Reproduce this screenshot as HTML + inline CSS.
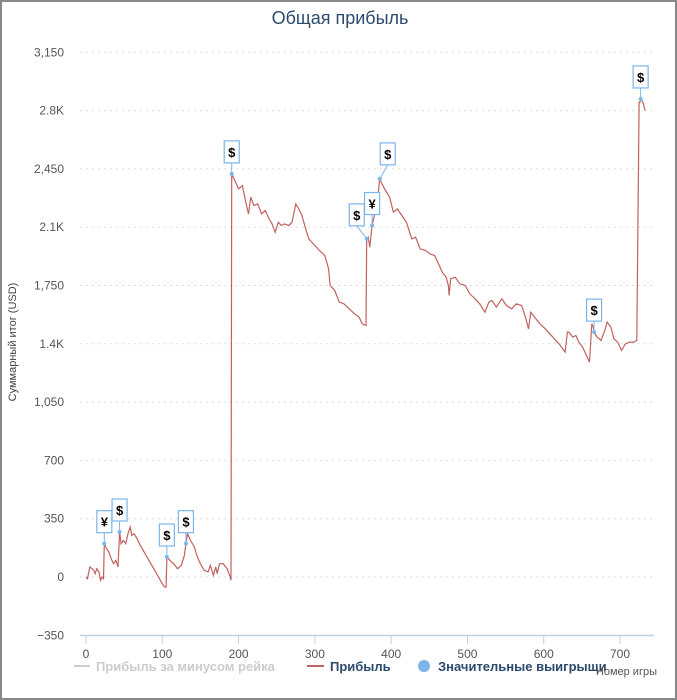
<!DOCTYPE html>
<html><head><meta charset="utf-8"><style>
body{margin:0;background:#fff;font-family:"Liberation Sans",sans-serif}
#wrap{position:relative;width:677px;height:700px;box-sizing:border-box;border:2px solid #888}
</style></head><body>
<div id="wrap">
<svg id="c" width="673" height="696" style="position:absolute;left:0;top:0"></svg>
</div>
<script>
const games=[0,2,5,8,10,12,14,17,19,21,23,24,27,30,33,36,39,42,44,46,49,52,55,58,60,63,67,70,75,80,85,90,95,100,103,105,106,110,115,120,125,129,131,133,137,142,146,150,155,160,163,167,170,172,175,180,185,189,190,191,195,200,205,209,213,216,220,225,230,235,240,244,248,252,256,260,266,270,275,279,283,288,292,300,306,313,318,320,326,332,338,345,352,358,362,367,368,370,372,375,378,382,385,389,394,398,403,408,414,420,427,432,438,445,451,457,462,467,472,475,476,478,484,490,497,503,510,516,523,528,532,538,545,551,558,564,571,576,580,583,588,595,602,608,614,620,628,631,633,638,642,646,651,656,660,663,665,666,670,675,680,683,688,692,697,702,707,713,718,722,725,726,727,730,733,737,741];
const profit=[0,-10,60,50,40,20,50,30,-20,0,-10,200,170,150,110,80,100,60,270,200,220,200,260,300,250,260,230,200,160,120,80,40,0,-40,-60,-60,120,100,80,50,70,130,200,260,220,180,120,80,40,30,70,10,60,20,80,80,50,0,-20,2420,2380,2330,2350,2260,2180,2280,2230,2240,2180,2200,2150,2120,2070,2130,2110,2120,2110,2130,2240,2210,2170,2090,2030,1990,1960,1930,1850,1750,1720,1650,1640,1610,1580,1560,1520,1510,2030,2040,1980,2110,2170,2250,2390,2350,2310,2280,2190,2210,2170,2130,2030,2040,1970,1960,1940,1930,1880,1830,1800,1750,1690,1790,1800,1760,1750,1700,1670,1640,1590,1650,1660,1620,1670,1630,1610,1640,1630,1560,1490,1590,1560,1520,1490,1460,1430,1400,1350,1470,1470,1440,1450,1410,1380,1330,1290,1520,1500,1470,1440,1420,1480,1530,1500,1430,1410,1360,1400,1410,1410,1420,2850,2850,2870,2850,2800];
const winGames=[24,44,106,131,191,368,375,385,666,727];
const winSymbols=["¥","$","$","$","$","$","¥","$","$","$"];
const yTicks=[3150,2800,2450,2100,1750,1400,1050,700,350,0,-350];
const yTickLabels=["3,150","2.8K","2,450","2.1K","1,750","1.4K","1,050","700","350","0","\u2212350"];
const xTicks=[0,100,200,300,400,500,600,700];

const NS="http://www.w3.org/2000/svg";
const svg=document.getElementById('c');
function X(g){return 84+g*0.7629;}
function Y(v){return 575-v*(58.3/350);}
function mk(t,a,p){const e=document.createElementNS(NS,t);for(const k in a)e.setAttribute(k,a[k]);(p||svg).appendChild(e);return e;}
function interp(g){for(let i=1;i<games.length;i++){if(games[i]>=g){const t=(g-games[i-1])/(games[i]-games[i-1]||1);return profit[i-1]+t*(profit[i]-profit[i-1]);}}return profit[profit.length-1];}

let t=mk('text',{x:338,y:22,'text-anchor':'middle','font-size':18,fill:'#2c4a6e'});t.textContent='Общая прибыль';



yTicks.forEach((v,i)=>{
 if(v!==-350){const l=mk('line',{x1:78,x2:652,y1:Y(v),y2:Y(v),stroke:'#ddd','stroke-dasharray':'2,4'});
 
 }
 const tx=mk('text',{x:62,y:Y(v)+4,'text-anchor':'end','font-size':12,fill:'#555'});tx.textContent=yTickLabels[i];
 
 
});
const ax=mk('line',{x1:78,x2:652,y1:633.5,y2:633.5,stroke:'#c0cfe6','stroke-width':1.5});


xTicks.forEach(g=>{
 const l=mk('line',{x1:X(g),x2:X(g),y1:633,y2:642,stroke:'#c0cfe6'});
 
 
 const tx=mk('text',{x:X(g),y:656,'text-anchor':'middle','font-size':12,fill:'#555'});tx.textContent=g;
 
 
});
const yt=mk('text',{x:0,y:0,transform:'translate(14,340) rotate(-90)','text-anchor':'middle','font-size':11,fill:'#444'});yt.textContent='Суммарный итог (USD)';



const pts=games.map((g,i)=>X(g).toFixed(1)+','+Y(profit[i]).toFixed(1)).join(' ');
const pl=mk('polyline',{points:pts,fill:'none',stroke:'#c0625f','stroke-width':1.2});



const offs={368:[-10,-13],375:[0,-11],385:[8,-14]};
winGames.forEach((g,i)=>{
 const px=X(g),py=Y(interp(g));
 const o=offs[g]||[0,-11];
 const bx=px+o[0],by=py+o[1];
 const grp=mk('g',{});
 
 
 mk('line',{x1:px,y1:py,x2:bx,y2:by,stroke:'#7cb5ec'},grp);
 mk('circle',{cx:px,cy:py,r:2,fill:'#7cb5ec'},grp);
 mk('rect',{x:bx-7.5,y:by-22,width:15,height:22,fill:'#fff',stroke:'#7cb5ec','stroke-width':1.2},grp);
 const s=mk('text',{x:bx,y:by-6,'text-anchor':'middle','font-size':13,'font-weight':'bold',fill:'#000'},grp);s.textContent=winSymbols[i];
});

const lg=mk('g',{});


const e1=mk('g',{},lg);


mk('line',{x1:72,x2:88,y1:664,y2:664,stroke:'#ccc','stroke-width':2},e1);
let lt=mk('text',{x:94,y:669,'font-size':13,'font-weight':'bold',fill:'#ccc'},e1);lt.textContent='Прибыль за минусом рейка';
const e2=mk('g',{},lg);


mk('line',{x1:305,x2:322,y1:664,y2:664,stroke:'#c0625f','stroke-width':2},e2);
lt=mk('text',{x:328,y:669,'font-size':13,'font-weight':'bold',fill:'#2c4a6e'},e2);lt.textContent='Прибыль';
const e3=mk('g',{},lg);


mk('circle',{cx:422,cy:664,r:6,fill:'#7cb5ec'},e3);
lt=mk('text',{x:436,y:669,'font-size':13,'font-weight':'bold',fill:'#2c4a6e'},e3);lt.textContent='Значительные выигрыщи';
const xt=mk('text',{x:655,y:673,'text-anchor':'end','font-size':11,fill:'#555'});xt.textContent='Номер игры';


</script>
</body></html>
